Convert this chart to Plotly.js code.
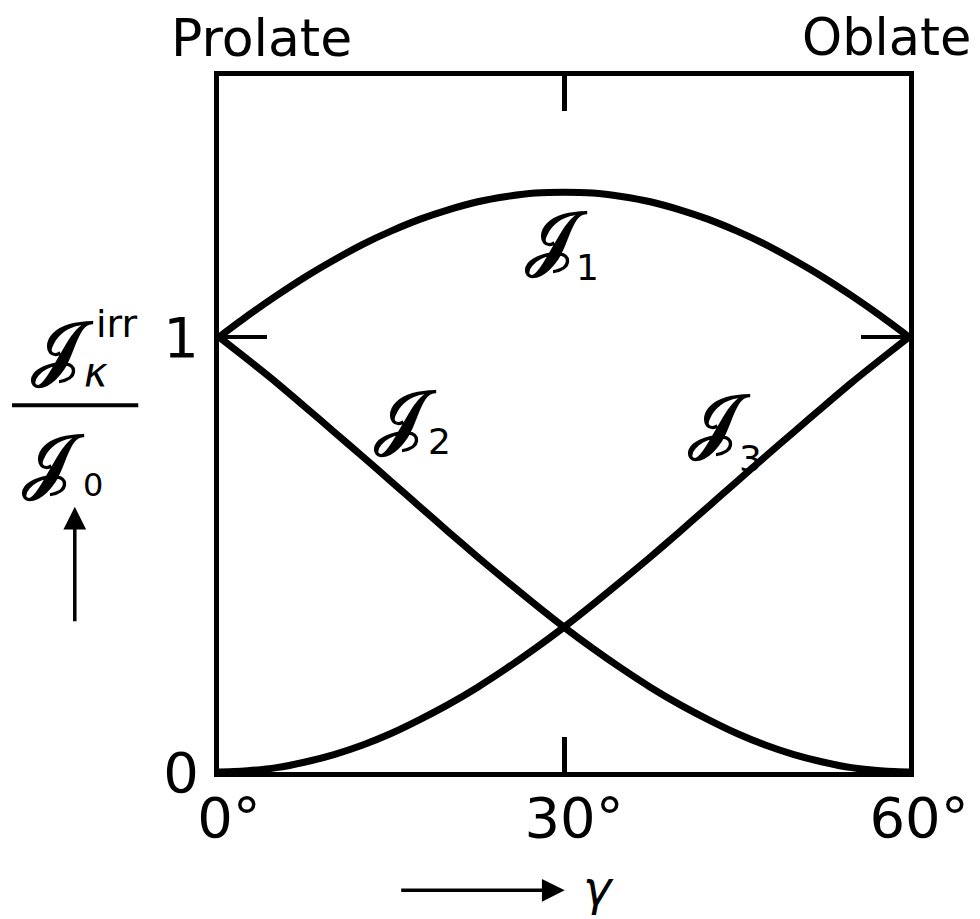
<!DOCTYPE html>
<html>
<head>
<meta charset="utf-8">
<script src="https://cdn.plot.ly/plotly-3.0.1.min.js"></script>
<style>
  html, body { margin: 0; padding: 0; background: #fff; }
  #chart { width: 980px; height: 919px; }
</style>
</head>
<body>
<div id="chart"></div>
<script>
// Deformation angle gamma (degrees)
const gamma = [0, 2.5, 5, 7.5, 10, 12.5, 15, 17.5, 20, 22.5, 25, 27.5, 30,
               32.5, 35, 37.5, 40, 42.5, 45, 47.5, 50, 52.5, 55, 57.5, 60];
// Irrotational moments of inertia J_k / J_0 for the three axes
const J1 = [1.000, 1.049, 1.095, 1.138, 1.177, 1.213, 1.244, 1.271, 1.293, 1.311, 1.323, 1.331, 1.333,
            1.331, 1.323, 1.311, 1.293, 1.271, 1.244, 1.213, 1.177, 1.138, 1.095, 1.049, 1.000];
const J2 = [1.000, 0.948, 0.895, 0.839, 0.782, 0.725, 0.667, 0.609, 0.551, 0.494, 0.439, 0.385, 0.333,
            0.284, 0.238, 0.195, 0.156, 0.121, 0.089, 0.062, 0.040, 0.023, 0.010, 0.003, 0.000];
const J3 = [0.000, 0.003, 0.010, 0.023, 0.040, 0.062, 0.089, 0.121, 0.156, 0.195, 0.238, 0.284, 0.333,
            0.385, 0.439, 0.494, 0.551, 0.609, 0.667, 0.725, 0.782, 0.839, 0.895, 0.948, 1.000];

const xTickVals = [0, 30, 60];
const xTickText = ['0°', '30°', '60°'];
const yTickVals = [0, 1];
const yTickText = ['0', '1'];

const FONT = 'DejaVu Sans, Liberation Sans, sans-serif';
const SCRIPT = 'DejaVu Serif, DejaVu Sans, Noto Sans, serif';
const INK = '#000';
const SCRIPT_J = '<b>𝒥</b>';

function curve(y) {
  return {
    x: gamma, y: y, type: 'scatter', mode: 'lines',
    line: { color: INK, width: 7, shape: 'spline', smoothing: 0.6 },
    hoverinfo: 'skip', showlegend: false
  };
}

const data = [curve(J1), curve(J2), curve(J3)];

function txt(text, x, y, size, ref, family) {
  return {
    text: text, x: x, y: y, xref: ref === 'paper' ? 'paper' : 'x',
    yref: ref === 'paper' ? 'paper' : 'y', showarrow: false,
    xanchor: 'center', yanchor: 'middle',
    font: { family: family || FONT, size: size, color: INK }
  };
}

const annotations = [
  txt('Prolate', 0.062, 1.055, 52, 'paper'),
  txt('Oblate', 0.968, 1.055, 51, 'paper'),
  // curve labels
  txt(SCRIPT_J, 29.3, 1.23, 72, 'data', SCRIPT),
  txt('1', 32.0, 1.16, 36, 'data'),
  txt(SCRIPT_J, 16.2, 0.82, 72, 'data', SCRIPT),
  txt('2', 19.2, 0.76, 36, 'data'),
  txt(SCRIPT_J, 43.5, 0.81, 72, 'data', SCRIPT),
  txt('3', 46.2, 0.72, 36, 'data'),
  // y-axis quantity as a fraction
  txt(SCRIPT_J, -0.228, 0.612, 72, 'paper', SCRIPT),
  txt('irr', -0.148, 0.643, 38, 'paper'),
  txt('<i>κ</i>', -0.178, 0.575, 40, 'paper'),
  txt(SCRIPT_J, -0.240, 0.449, 72, 'paper', SCRIPT),
  txt('0', -0.182, 0.413, 32, 'paper'),
  // arrows pointing along increasing values
  { x: -0.209, y: 0.381, xref: 'paper', yref: 'paper', text: '', showarrow: true,
    ax: 0, ay: 116, arrowhead: 2, arrowsize: 1.3, arrowwidth: 3.5, arrowcolor: INK, standoff: 0 },
  { x: 0.501, y: -0.170, xref: 'paper', yref: 'paper', text: '', showarrow: true,
    ax: -165, ay: 0, arrowhead: 2, arrowsize: 1.3, arrowwidth: 3.5, arrowcolor: INK, standoff: 0 },
  txt('<i>γ</i>', 0.550, -0.166, 48, 'paper')
];

const layout = {
  width: 980, height: 919,
  margin: { l: 219, r: 71, t: 76, b: 147, pad: 0 },
  paper_bgcolor: '#fff', plot_bgcolor: '#fff',
  showlegend: false,
  xaxis: {
    range: [0, 60], tickvals: xTickVals, ticktext: xTickText,
    ticks: 'inside', ticklen: 35, tickwidth: 5, tickcolor: INK,
    showline: true, linewidth: 5, linecolor: INK, mirror: 'ticks',
    showgrid: false, zeroline: false,
    ticklabelshift: 10, ticklabelstandoff: -7,
    tickfont: { family: FONT, size: 56, color: INK }
  },
  yaxis: {
    range: [0, 1.6], tickvals: yTickVals, ticktext: yTickText,
    ticks: 'inside', ticklen: 48, tickwidth: 4, tickcolor: INK,
    showline: true, linewidth: 5, linecolor: INK, mirror: 'ticks',
    showgrid: false, zeroline: false,
    ticklabelstandoff: 4,
    tickfont: { family: FONT, size: 56, color: INK }
  },
  shapes: [
    { type: 'line', xref: 'paper', yref: 'paper', x0: -0.300, x1: -0.117, y0: 0.527, y1: 0.527,
      line: { color: INK, width: 4 } }
  ],
  annotations: annotations
};

Plotly.newPlot('chart', data, layout, { staticPlot: true });
</script>
</body>
</html>
